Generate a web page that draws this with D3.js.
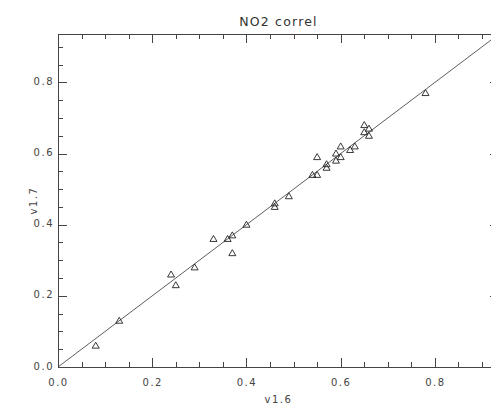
<!DOCTYPE html>
<html>
<head>
<meta charset="utf-8">
<title>NO2 correl</title>
<script src="https://cdn.jsdelivr.net/npm/d3@7/dist/d3.min.js"></script>
<style>
body { margin:0; background:#fff; }
.axis path, .axis line { stroke:#444; stroke-width:1px; shape-rendering:crispEdges; }
.axis text, .lbl { font-family:"DejaVu Sans", sans-serif; font-size:10px; fill:#444; letter-spacing:1.5px; }
.title { font-family:"DejaVu Sans", sans-serif; font-size:12.5px; fill:#333; letter-spacing:1.2px; }
.pt { fill:none; stroke:#222; stroke-width:0.9px; }
.fit { stroke:#333; stroke-width:0.8px; fill:none; }
</style>
</head>
<body>
<div id="chart"></div>
<script>
// v1.6 / v1.7 のペア
var v16 = [0.08, 0.13, 0.24, 0.25, 0.29, 0.33, 0.36, 0.37, 0.37, 0.40,
           0.46, 0.46, 0.49, 0.54, 0.55, 0.55, 0.57, 0.57, 0.59, 0.59,
           0.60, 0.60, 0.62, 0.63, 0.65, 0.66, 0.65, 0.66, 0.78];
var v17 = [0.06, 0.13, 0.26, 0.23, 0.28, 0.36, 0.36, 0.37, 0.32, 0.40,
           0.46, 0.45, 0.48, 0.54, 0.54, 0.59, 0.57, 0.56, 0.60, 0.58,
           0.62, 0.59, 0.61, 0.62, 0.68, 0.67, 0.66, 0.65, 0.77];
var majorTicks = [0.0, 0.2, 0.4, 0.6, 0.8];
var minorTicks = d3.range(0, 19).map(function(i){ return i * 0.05; });
var fitLine = [0, 0.936];   // y = x

(function(){
	var W = 491, H = 408;
	var mL = 58, mR = 499, mT = 34, mB = 367;

	var svg = d3.select("#chart").append("svg").attr("width", W).attr("height", H);

	var x = d3.scaleLinear().domain([0, 0.936]).range([mL, mR]);
	var y = d3.scaleLinear().domain([0, 0.936]).range([mB, mT]);

	var fmt = d3.format(".1f");

	function addAxis(gen, tr, ticks, size, withLabels) {
		var a = gen.tickValues(ticks).tickSize(-size).tickSizeOuter(0).tickPadding(withLabels ? 8 : 0)
			.tickFormat(withLabels ? fmt : "");
		return svg.append("g").attr("class", "axis").attr("transform", tr).call(a);
	}

	// minor ticks
	addAxis(d3.axisBottom(x), "translate(0," + mB + ")", minorTicks, 5, false);
	addAxis(d3.axisTop(x), "translate(0," + mT + ")", minorTicks, 5, false);
	addAxis(d3.axisLeft(y), "translate(" + mL + ",0)", minorTicks, 5, false);
	addAxis(d3.axisRight(y), "translate(" + mR + ",0)", minorTicks, 5, false);
	// major ticks
	var xb = addAxis(d3.axisBottom(x), "translate(0," + mB + ")", majorTicks, 9, true);
	addAxis(d3.axisTop(x), "translate(0," + mT + ")", majorTicks, 9, false);
	var yl = addAxis(d3.axisLeft(y), "translate(" + mL + ",0)", majorTicks, 9, true);
	addAxis(d3.axisRight(y), "translate(" + mR + ",0)", majorTicks, 9, false);
	xb.selectAll("text").attr("dy", "1.05em");
	yl.selectAll("text").attr("x", -4).attr("dy", "0.2em");

	svg.append("clipPath").attr("id", "plotclip").append("rect")
		.attr("x", mL).attr("y", mT).attr("width", mR - mL).attr("height", mB - mT);

	svg.append("line").attr("class", "fit").attr("clip-path", "url(#plotclip)")
		.attr("x1", x(fitLine[0])).attr("y1", y(fitLine[0]))
		.attr("x2", x(fitLine[1])).attr("y2", y(fitLine[1]));

	// triangles
	var tri = "M0,-3.5L3.5,2.5L-3.5,2.5Z";
	svg.append("g").selectAll("path").data(v16).enter().append("path")
		.attr("class", "pt")
		.attr("transform", function(d, i){ return "translate(" + x(d) + "," + y(v17[i]) + ")"; })
		.attr("d", tri);

	svg.append("text").attr("class", "title").attr("x", (mL + mR) / 2).attr("y", 26)
		.attr("text-anchor", "middle").text("NO2  correl");
	svg.append("text").attr("class", "lbl").attr("x", (mL + mR) / 2).attr("y", 403)
		.attr("text-anchor", "middle").text("v1.6");
	svg.append("text").attr("class", "lbl").attr("text-anchor", "middle")
		.attr("transform", "translate(37," + ((mT + mB) / 2) + ") rotate(-90)").text("v1.7");
})();
</script>
</body>
</html>
